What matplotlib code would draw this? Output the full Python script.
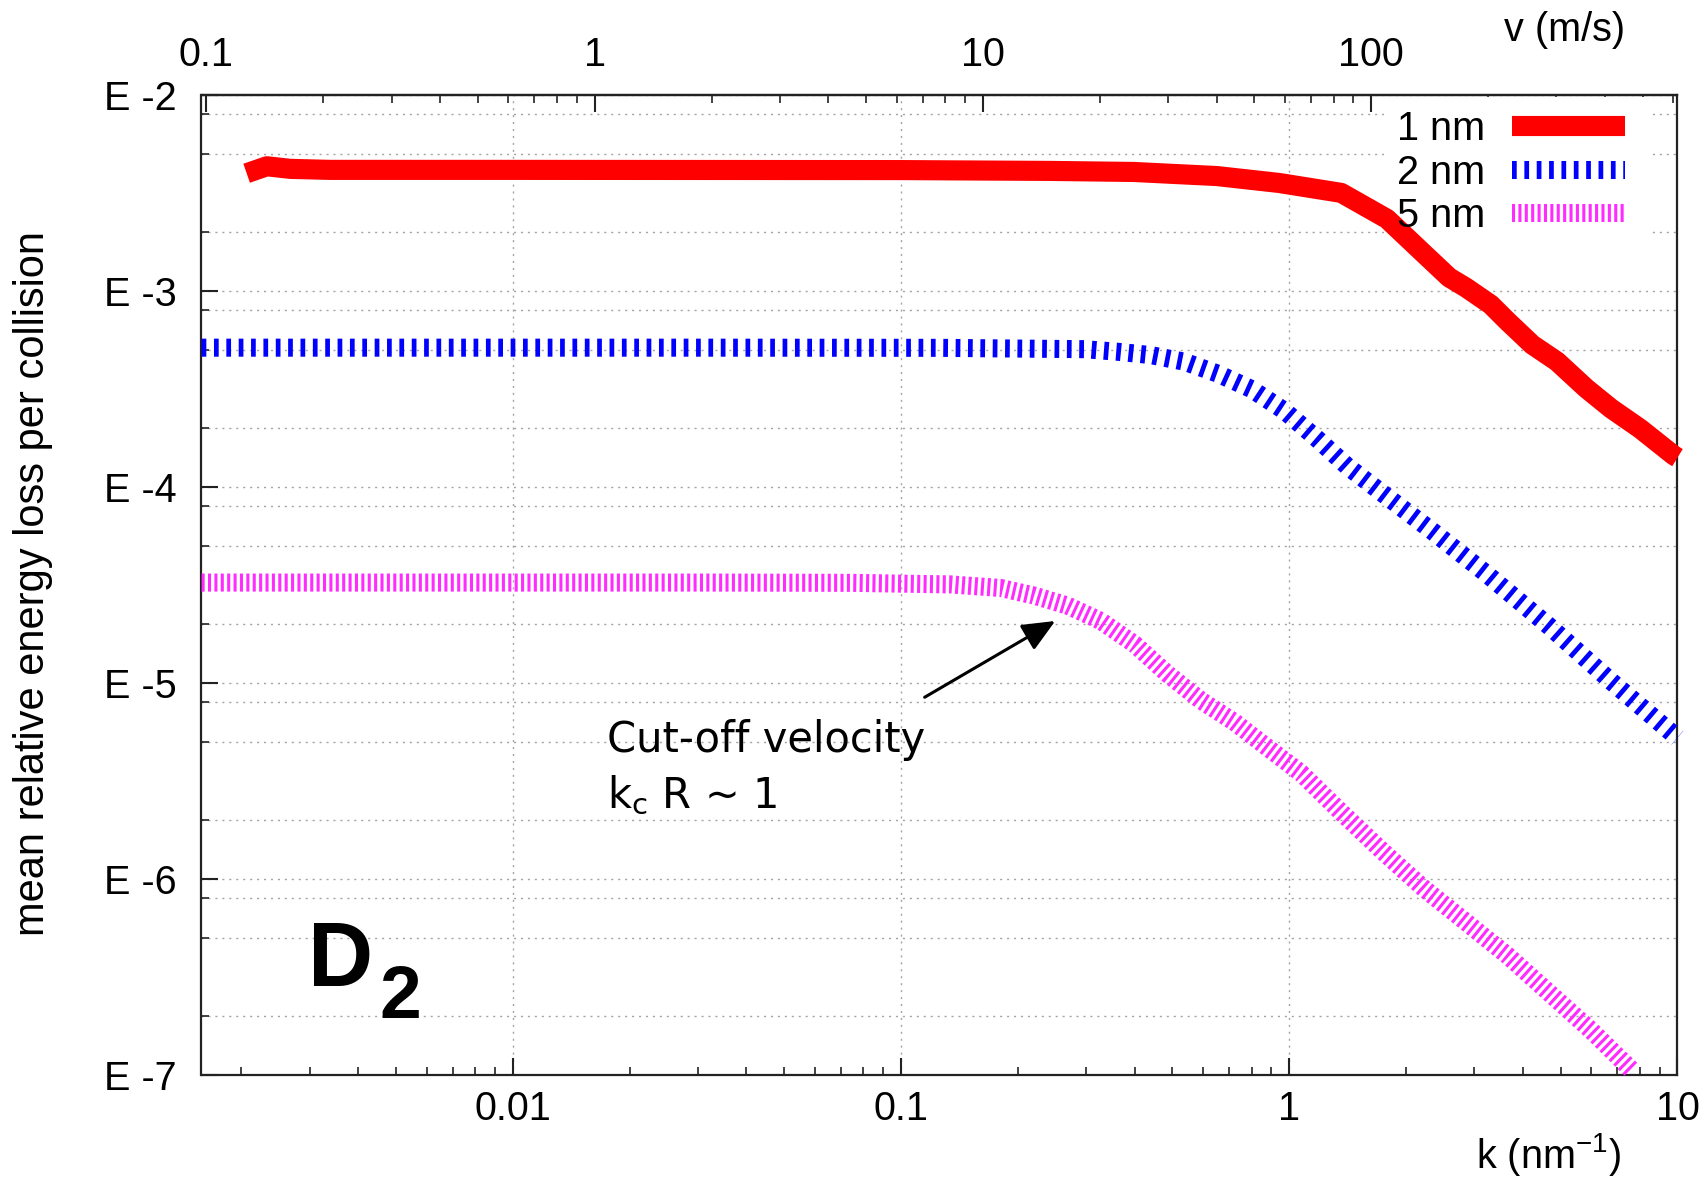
import numpy as np
import matplotlib
matplotlib.use("Agg")
import matplotlib.pyplot as plt
from matplotlib.patches import Rectangle
from matplotlib.ticker import LogLocator, NullFormatter

plt.rcParams["font.family"] = ["Liberation Sans", "DejaVu Sans"]
plt.rcParams["lines.scale_dashes"] = False
plt.rcParams["mathtext.default"] = "regular"

# wave number k (nm^-1) and mean relative energy loss per collision, per cluster radius
k_1nm = [0.002065, 0.002328, 0.002673, 0.003388, 0.01, 0.1, 0.2432, 0.3981, 0.6516,
         0.9419, 1.361, 1.786, 2.228, 2.582, 2.851, 3.304, 3.648, 4.227, 4.898,
         5.821, 6.745, 8.017, 9.772, 10.0]
E_1nm = [3.98e-3, 4.32e-3, 4.19e-3, 4.14e-3, 4.14e-3, 4.13e-3, 4.09e-3, 4.04e-3, 3.85e-3,
         3.55e-3, 3.16e-3, 2.33e-3, 1.54e-3, 1.17e-3, 1.04e-3, 8.51e-4, 7.00e-4, 5.31e-4,
         4.36e-4, 3.18e-4, 2.51e-4, 1.98e-4, 1.45e-4, 1.41e-4]

k_2nm = [0.001581, 0.03162, 0.1259, 0.2965, 0.3614, 0.4406, 0.5370, 0.6546, 0.7980,
         0.9705, 1.183, 1.413, 1.832, 2.344, 3.228, 4.667, 6.745, 10.0]
E_2nm = [5.13e-4, 5.13e-4, 5.12e-4, 5.04e-4, 4.89e-4, 4.70e-4, 4.35e-4, 3.78e-4, 3.16e-4,
         2.45e-4, 1.75e-4, 1.27e-4, 8.57e-5, 5.92e-5, 3.59e-5, 1.95e-5, 1.02e-5, 5.25e-6]

k_5nm = [0.001581, 0.03162, 0.0743, 0.1343, 0.1807, 0.2203, 0.2685, 0.3273, 0.3990,
         0.4864, 0.5929, 0.7228, 0.8790, 1.072, 1.361, 1.742, 2.228, 2.851, 3.648,
         4.667, 5.970, 7.586]
E_5nm = [3.25e-5, 3.25e-5, 3.24e-5, 3.18e-5, 3.05e-5, 2.79e-5, 2.48e-5, 2.07e-5, 1.58e-5,
         1.11e-5, 8.13e-6, 6.31e-6, 4.68e-6, 3.47e-6, 2.19e-6, 1.38e-6, 8.91e-7, 6.03e-7,
         4.07e-7, 2.63e-7, 1.70e-7, 1.07e-7]

series_labels = ["1 nm", "2 nm", "5 nm"]

# velocity scale of the top axis: v (m/s) = V_PER_K * k (nm^-1)
V_PER_K = 61.5

x_ticks = [0.01, 0.1, 1, 10]
x_tick_labels = ["0.01", "0.1", "1", "10"]
v_ticks = [0.1, 1, 10, 100]
v_tick_labels = ["0.1", "1", "10", "100"]
y_ticks = [1e-2, 1e-3, 1e-4, 1e-5, 1e-6, 1e-7]
y_tick_labels = ["E -2", "E -3", "E -4", "E -5", "E -6", "E -7"]

# arrow pointing at the cut-off of the 5 nm curve (tail, head in data units)
arrow_tail = (0.1151, 8.45e-6)
arrow_head = (0.2497, 2.07e-5)

W, H = 1708, 1180
fig = plt.figure(figsize=(W / 100, H / 100), dpi=100)
ax = fig.add_axes([201.5 / W, 1 - 1075 / H, 1476 / W, 980.2 / H])
ax.set_xscale("log")
ax.set_yscale("log")
ax.set_xlim(0.00158, 10)
ax.set_ylim(1e-7, 1e-2)

grid_style = dict(color="#a4a4a4", linewidth=1.0, linestyle=(0, (1.5, 3.5)))
ax.set_axisbelow(True)
ax.grid(True, which="major", axis="both", **grid_style)
ax.grid(True, which="minor", axis="y", **grid_style)

ax.set_xticks(x_ticks, x_tick_labels)
ax.xaxis.set_minor_locator(LogLocator(base=10, subs=np.arange(2, 10), numticks=50))
ax.xaxis.set_minor_formatter(NullFormatter())
ax.set_yticks(y_ticks, y_tick_labels)
ax.yaxis.set_minor_locator(LogLocator(base=10, subs=(2, 5, 8), numticks=50))
ax.yaxis.set_minor_formatter(NullFormatter())

ax.tick_params(which="major", direction="in", length=12, width=1.5, labelsize=28.5,
               top=False, right=False, color="#222222")
ax.tick_params(which="minor", direction="in", length=6, width=1.2,
               top=False, right=False, color="#222222")
ax.tick_params(axis="x", which="major", pad=11)
ax.tick_params(axis="y", which="major", pad=18)
for sp in ax.spines.values():
    sp.set_linewidth(1.6)
    sp.set_color("#222222")

# top axis: velocity
sec = ax.secondary_xaxis("top", functions=(lambda k: k * V_PER_K, lambda v: v / V_PER_K))
sec.set_xticks(v_ticks, v_tick_labels)
sec.xaxis.set_minor_locator(LogLocator(base=10, subs=np.arange(2, 10), numticks=50))
sec.xaxis.set_minor_formatter(NullFormatter())
sec.tick_params(which="major", direction="in", length=12, width=1.5, labelsize=28.5,
                pad=15, color="#222222")
sec.tick_params(which="minor", direction="in", length=6, width=1.2, color="#222222")
sec.spines["top"].set_linewidth(1.6)
sec.spines["top"].set_color("#222222")

# white box behind the key (covers the grid, not the curves)
ax.add_patch(Rectangle((0.801, 0.846), 0.180, 0.152, transform=ax.transAxes,
                       facecolor="white", edgecolor="none", zorder=1))

ax.plot(k_1nm, E_1nm, color="#ff0000", linewidth=14.5, solid_capstyle="butt",
        solid_joinstyle="round", label=series_labels[0], clip_on=False, zorder=3)
ax.plot(k_2nm, E_2nm, color="#0000ff", linewidth=13, dashes=(3.4, 5.5),
        dash_capstyle="butt", label=series_labels[1], clip_on=False, zorder=3)
ax.plot(k_5nm, E_5nm, color="#ff2bff", linewidth=13, dashes=(2.2, 2.4),
        dash_capstyle="butt", label=series_labels[2], clip_on=False, zorder=3)

leg = ax.legend(loc="upper right", bbox_to_anchor=(1625 / W, 1 - 110 / H),
                bbox_transform=fig.transFigure, frameon=False, fontsize=28.5,
                markerfirst=False, handlelength=2.85, handletextpad=0.68,
                labelspacing=0.14, borderpad=0, borderaxespad=0)
leg.set_zorder(5)

ax.annotate("", xy=arrow_head, xytext=arrow_tail,
            arrowprops=dict(arrowstyle="-|>,head_length=0.5,head_width=0.22",
                            color="black", lw=2.2, mutation_scale=40,
                            shrinkA=0, shrinkB=0), zorder=6)

fig.text(606.8 / W, 1 - 752 / H, "Cut-off velocity", family="DejaVu Sans",
         fontsize=30, va="baseline", ha="left")
fig.text(606.8 / W, 1 - 808 / H, "$k_c$ R ~ 1", family="DejaVu Sans",
         fontsize=30, va="baseline", ha="left")

fig.text(308 / W, 1 - 986 / H, "D", fontsize=65, fontweight="bold",
         va="baseline", ha="left")
fig.text(379 / W, 1 - 1018.5 / H, "2", fontsize=54, fontweight="bold",
         va="baseline", ha="left")

fig.text(33 / W, 1 - 584 / H, "mean relative energy loss per collision",
         rotation=90, ha="center", va="center", fontsize=30)
fig.text(1625 / W, 1 - 41 / H, "v (m/s)", ha="right", va="baseline", fontsize=28.5)
fig.text(1621 / W, 1 - 1168 / H, "k (nm$^{-1}$)", ha="right", va="baseline",
         fontsize=28.5)

fig.savefig("out.png", dpi=100, facecolor="white")
